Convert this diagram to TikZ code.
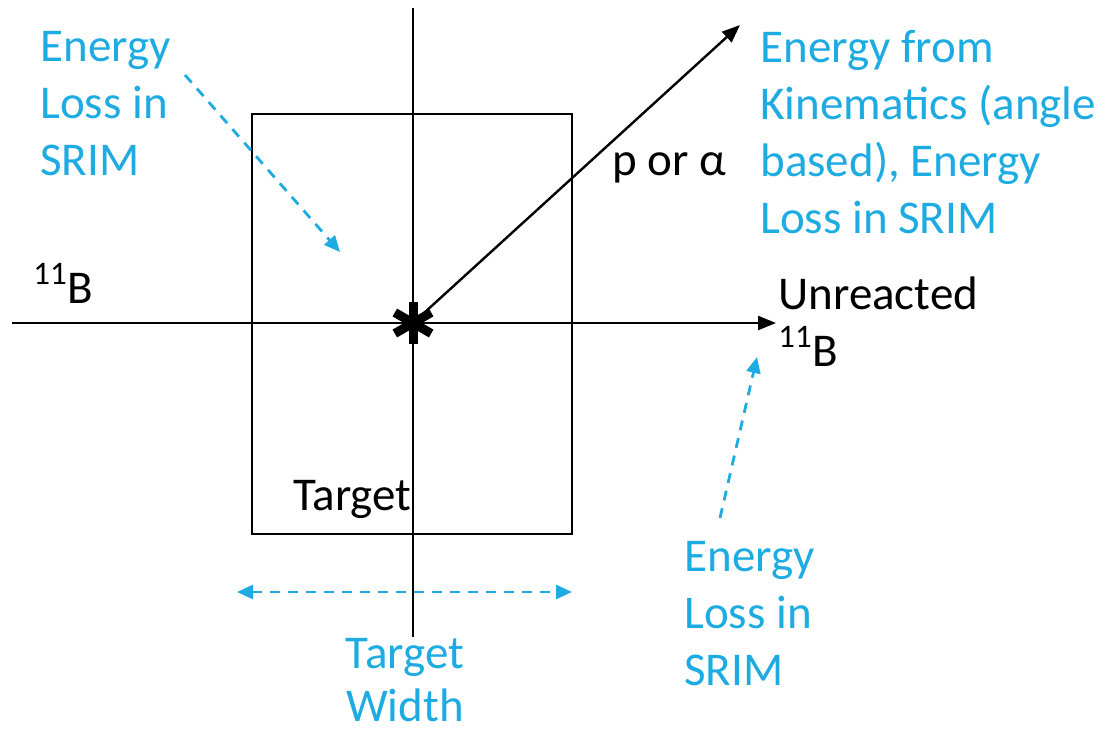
\documentclass[tikz,border=0pt]{standalone}
\usepackage{fontspec}
\setmainfont{Carlito}
\usepackage{xcolor}
\usetikzlibrary{arrows.meta, positioning}
\definecolor{srimblue}{RGB}{29,171,226}
\tikzset{
  lbl/.style = {
    inner sep=0pt, align=left, text=black,
    font=\fontsize{23.5}{28.5}\selectfont
  },
  bluelbl/.style = {lbl, text=srimblue},
  beam/.style   = {line width=1.2pt, -{Triangle[length=9pt,width=7pt]}},
  plain/.style  = {line width=1.2pt},
  darr/.style   = {line width=1.4pt, draw=srimblue, dash pattern=on 5pt off 4pt,
                   -{Triangle[length=8pt,width=7pt]}},
  ddarr/.style  = {darr, {Triangle[length=8pt,width=7pt]}-{Triangle[length=8pt,width=7pt]}}
}

\begin{document}
\begin{tikzpicture}[x=0.5pt, y=-0.5pt]
\useasboundingbox (0,0) rectangle (1107,734);

%% Target and axes
\node[draw, line width=1.2pt, minimum width=160pt, minimum height=210pt,
      inner sep=0pt, anchor=north west] (tgt) at (251,113) {};
\coordinate (rxn) at (413,323);
\coordinate (vtop) at (413,8);
\coordinate (vbot) at (413,637);
\coordinate (bin)  at (12,323);
\coordinate (bout) at (776,323);
\coordinate (pout) at (740,25);

\draw[plain] (vtop) -- (vbot);
\draw[beam] (bin) -- (bout);
\draw[beam] (rxn) -- (pout);

%% Reaction point
\foreach \a in {90,30,-30,-90,150,210}
  \draw[line width=4.5pt] (rxn) -- ++(\a:21);

%% Labels
\node[lbl, anchor=base west] (bbeam) at (33,303) {\textsuperscript{11}B};
\node[lbl, anchor=base west] (prod) at (612,175) {p or α};
\node[lbl, anchor=base west] (tgtlbl) at (293,510) {Target};
\node[lbl, anchor=north west] (unr) at (778,276) {Unreacted\\\textsuperscript{11}B};

\node[bluelbl, anchor=north west] (lossL) at (40,31) {Energy\\Loss in\\SRIM};
\node[bluelbl, anchor=north west] (kin) at (760,30)
  {Energy from\\Kinematics (angle\\based), Energy\\Loss in SRIM};
\node[bluelbl, anchor=north west] (lossR) at (684,541) {Energy\\Loss in\\SRIM};
\node[bluelbl, align=center, anchor=north,
      font=\fontsize{23.5}{26.5}\selectfont] (wid) at (405,638) {Target\\Width};

%% Blue arrows
\coordinate (lLs) at (185,75);
\coordinate (lLe) at (340,252);
\coordinate (lRs) at (720,518);
\coordinate (lRe) at (757,357);
\coordinate (wL) at (237,592);
\coordinate (wR) at (572,592);

\draw[darr] (lLs) -- (lLe);
\draw[darr] (lRs) -- (lRe);
\draw[ddarr] (wL) -- (wR);

\end{tikzpicture}
\end{document}
